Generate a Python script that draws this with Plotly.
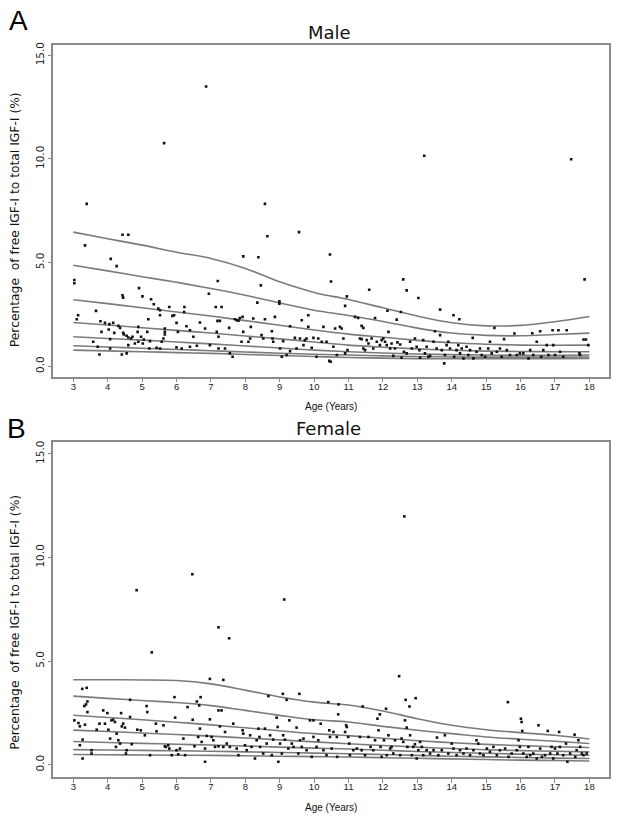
import plotly.graph_objects as go

# ---------------- data ----------------
curve_age = [3, 4, 5, 6, 7, 8, 9, 10, 11, 12, 13, 14, 15, 16, 17, 18]

male_p97 = [6.47, 6.15, 5.84, 5.50, 5.20, 4.72, 4.07, 3.56, 3.22, 2.82, 2.42, 2.10, 1.95, 1.97, 2.15, 2.40]
male_p90 = [4.87, 4.60, 4.32, 4.05, 3.75, 3.42, 3.05, 2.70, 2.45, 2.16, 1.84, 1.60, 1.49, 1.47, 1.53, 1.60]
male_p75 = [3.21, 3.02, 2.82, 2.62, 2.42, 2.20, 1.98, 1.75, 1.55, 1.40, 1.25, 1.13, 1.06, 1.02, 1.01, 1.02]
male_p50 = [2.11, 1.99, 1.86, 1.73, 1.60, 1.46, 1.32, 1.17, 1.02, 0.92, 0.84, 0.77, 0.73, 0.71, 0.70, 0.70]
male_p25 = [1.42, 1.34, 1.26, 1.17, 1.08, 0.98, 0.88, 0.78, 0.70, 0.64, 0.59, 0.56, 0.54, 0.53, 0.53, 0.54]
male_p10 = [0.99, 0.93, 0.87, 0.81, 0.75, 0.69, 0.63, 0.58, 0.54, 0.50, 0.47, 0.45, 0.44, 0.44, 0.44, 0.45]
male_p03 = [0.78, 0.74, 0.70, 0.66, 0.62, 0.57, 0.52, 0.47, 0.42, 0.39, 0.37, 0.36, 0.36, 0.36, 0.37, 0.38]

female_p97 = [4.10, 4.10, 4.09, 4.06, 3.90, 3.60, 3.27, 3.02, 2.88, 2.59, 2.22, 1.90, 1.69, 1.55, 1.42, 1.24]
female_p90 = [3.31, 3.20, 3.10, 3.00, 2.85, 2.62, 2.38, 2.17, 2.06, 1.85, 1.66, 1.50, 1.34, 1.23, 1.13, 1.02]
female_p75 = [2.39, 2.28, 2.17, 2.05, 1.92, 1.78, 1.64, 1.50, 1.40, 1.28, 1.16, 1.06, 0.98, 0.92, 0.87, 0.83]
female_p50 = [1.67, 1.60, 1.53, 1.46, 1.38, 1.29, 1.20, 1.10, 1.01, 0.93, 0.85, 0.78, 0.72, 0.68, 0.65, 0.62]
female_p25 = [1.12, 1.07, 1.03, 0.99, 0.95, 0.90, 0.85, 0.80, 0.76, 0.70, 0.64, 0.59, 0.55, 0.51, 0.48, 0.46]
female_p10 = [0.73, 0.71, 0.69, 0.67, 0.65, 0.62, 0.59, 0.56, 0.53, 0.49, 0.45, 0.41, 0.38, 0.35, 0.32, 0.30]
female_p03 = [0.49, 0.48, 0.47, 0.46, 0.45, 0.43, 0.41, 0.39, 0.37, 0.34, 0.31, 0.28, 0.25, 0.22, 0.20, 0.18]

male_age = [
    3.39, 3.34, 3.03, 3.03, 3.14, 3.10, 3.66, 3.79, 3.92, 4.05, 4.16, 4.31, 3.82, 4.03, 4.07, 4.19,
    4.36, 4.45, 4.47, 4.55, 4.60, 4.68, 4.72, 4.87, 4.89, 4.97, 5.05, 5.15, 4.79, 4.60, 4.41, 4.55,
    3.76, 3.58, 3.71, 4.07, 4.43, 4.45, 4.91, 5.01, 5.26, 5.34, 5.47, 5.52, 5.66, 5.66, 5.62, 5.57,
    5.52, 5.42, 5.23, 5.21, 5.02, 4.89, 5.18, 5.52, 5.79, 5.93, 5.88, 6.23, 6.22, 6.00, 6.04, 6.29,
    6.39, 6.49, 6.00, 6.15, 6.39, 6.59, 6.68, 6.83, 6.94, 6.97, 7.14, 7.19, 7.26, 7.31, 7.17, 7.22,
    7.22, 7.41, 7.53, 7.55, 7.63, 7.70, 7.75, 7.80, 7.84, 7.92, 7.94, 7.89, 7.94, 8.09, 8.14, 8.16,
    8.23, 8.35, 8.38, 8.45, 8.47, 8.52, 8.64, 8.57, 8.57, 8.77, 8.79, 8.81, 8.86, 8.99, 8.99, 9.01,
    9.06, 9.10, 9.20, 9.30, 9.30, 9.44, 9.49, 9.59, 9.64, 9.69, 9.73, 9.78, 9.83, 9.83, 9.93, 9.98,
    10.07, 10.12, 10.22, 10.27, 10.36, 10.44, 10.48, 10.46, 10.49, 10.56, 10.61, 10.66, 10.75, 10.80, 10.85, 10.90,
    10.90, 10.95, 10.97, 9.56, 4.43, 4.60, 4.09, 4.26, 7.20, 5.66,
    5.64, 6.86, 13.20, 17.47,
    11.19, 11.28, 11.38, 11.43, 11.33, 11.38, 11.48, 11.43, 11.53, 11.58, 11.60, 11.67, 11.72, 11.77, 11.82, 11.91,
    11.96, 12.01, 12.06, 12.11, 12.13, 12.16, 12.21, 12.25, 12.30, 12.35, 12.40, 12.42, 12.50, 12.52, 12.54, 12.59,
    12.61, 12.69, 12.69, 12.79, 12.84, 12.93, 12.98, 13.03, 13.06, 13.08, 13.17, 13.22, 13.27, 13.32, 13.37, 13.47,
    13.51, 13.56, 13.66, 13.66, 13.71, 13.78, 13.80, 13.85, 13.90, 13.95, 14.05, 14.07, 14.14, 14.19, 14.22, 14.24,
    14.29, 14.34, 14.43, 14.48, 14.53, 14.61, 14.63, 14.72, 14.82, 14.87, 14.97, 15.06, 15.11, 15.16, 15.24, 15.31,
    15.40, 15.45, 15.52, 15.60, 15.69, 15.82, 15.89, 15.98, 16.08, 16.23, 16.28, 16.34, 16.37, 16.47, 16.57, 16.60,
    16.66, 16.76, 16.81, 16.93, 16.95, 17.00, 17.10, 17.15, 17.24, 17.34, 17.71, 17.73, 17.83, 17.90, 17.86, 17.97,
]
male_val = [
    7.83, 5.83, 4.16, 4.00, 2.46, 2.27, 2.67, 2.17, 2.09, 2.03, 2.09, 1.95, 1.66, 1.77, 1.31, 1.61,
    1.85, 1.61, 1.53, 1.47, 1.39, 1.34, 1.42, 1.66, 1.90, 1.42, 1.29, 1.66, 1.10, 1.02, 0.57, 0.62,
    0.57, 1.18, 0.94, 0.86, 3.42, 3.31, 3.77, 3.37, 3.23, 2.99, 2.78, 2.46, 1.66, 1.53, 1.34, 1.18,
    0.86, 0.89, 1.21, 0.86, 1.10, 1.18, 2.27, 2.70, 2.86, 2.46, 2.43, 2.86, 2.62, 2.09, 1.66, 1.93,
    1.74, 1.42, 0.91, 0.86, 0.94, 0.99, 2.11, 1.82, 3.50, 1.02, 2.86, 2.19, 2.19, 2.86, 1.66, 1.42,
    0.86, 0.86, 1.85, 0.62, 0.46, 2.27, 2.22, 2.20, 2.33, 2.38, 5.30, 1.18, 1.66, 1.18, 1.34, 1.90,
    2.30, 3.07, 5.26, 3.90, 1.50, 1.34, 6.27, 7.83, 2.27, 1.69, 1.34, 1.18, 2.38, 3.13, 3.02, 0.86,
    0.46, 1.21, 0.54, 1.93, 0.73, 1.37, 0.86, 1.34, 2.22, 1.02, 1.26, 1.34, 2.46, 1.90, 0.89, 1.37,
    0.46, 1.34, 1.18, 1.90, 1.18, 0.26, 0.22, 5.39, 4.09, 0.94, 1.82, 0.54, 1.90, 1.82, 1.34, 2.91,
    0.62, 3.37, 0.78, 6.47, 6.34, 6.34, 5.18, 4.83, 4.11, 1.82,
    10.76, 13.49, 10.15, 9.98,
    2.38, 2.33, 1.95, 1.85, 1.34, 1.31, 0.78, 0.86, 1.26, 1.10, 3.69, 1.34, 0.86, 2.33, 1.18, 1.02,
    1.26, 1.34, 1.18, 1.02, 2.68, 1.66, 0.86, 1.10, 0.50, 0.86, 2.25, 1.15, 1.05, 2.62, 0.41, 4.19,
    0.70, 3.66, 0.62, 1.18, 0.86, 1.34, 0.94, 3.29, 0.78, 0.41, 1.26, 0.62, 0.94, 0.46, 0.50, 1.18,
    1.69, 0.86, 2.73, 1.50, 0.78, 0.14, 0.54, 1.02, 1.18, 0.86, 2.46, 0.46, 0.78, 1.02, 2.27, 0.62,
    0.86, 0.38, 0.94, 0.54, 0.78, 1.37, 0.38, 0.70, 0.86, 0.54, 0.46, 0.86, 1.18, 0.62, 1.85, 0.70,
    0.86, 0.46, 1.31, 0.78, 0.54, 1.58, 0.54, 0.62, 0.62, 0.38, 0.78, 1.59, 0.54, 1.18, 1.69, 0.46,
    0.78, 1.02, 0.54, 1.74, 1.02, 0.54, 1.74, 0.70, 0.46, 1.74, 0.62, 0.54, 1.29, 1.29, 4.19, 1.02,
]

female_age = [
    3.26, 3.39, 3.32, 3.37, 3.41, 3.03, 3.15, 3.19, 3.34, 3.41, 3.27, 3.19, 3.27, 3.53, 3.53, 3.68,
    3.76, 3.87, 3.92, 3.99, 4.02, 4.07, 4.11, 4.16, 4.21, 4.26, 4.24, 4.31, 4.36, 4.39, 4.41, 4.45,
    4.50, 4.53, 4.55, 4.65, 4.65, 4.70, 4.86, 4.96, 5.08, 5.13, 5.15, 5.23, 5.40, 5.42, 5.62, 5.66,
    5.69, 5.76, 5.79, 5.86, 5.94, 5.96, 6.00, 6.05, 6.10, 6.20, 6.25, 6.32, 6.47, 6.52, 6.59, 6.63,
    6.66, 6.68, 6.70, 6.73, 6.83, 6.83, 6.88, 6.97, 6.97, 7.02, 7.07, 7.12, 7.22, 7.22, 7.26, 7.31,
    7.36, 7.36, 7.41, 7.46, 7.55, 7.65, 7.75, 7.80, 7.92, 7.94, 7.99, 8.04, 8.14, 8.18, 8.28, 8.33,
    8.38, 8.41, 8.43, 8.52, 8.57, 8.62, 8.67, 8.72, 8.77, 8.81, 8.91, 8.94, 8.96, 9.01, 9.06, 9.09,
    9.10, 9.15, 9.20, 9.25, 9.28, 9.35, 9.40, 9.49, 9.54, 9.57, 9.59, 9.64, 9.69, 9.78, 9.88, 9.93,
    9.98, 9.98, 10.07, 10.12, 10.19, 10.27, 10.36, 10.41, 10.44, 10.46, 10.51, 10.56, 10.66, 10.67, 10.70, 10.71,
    4.84, 6.46, 9.13, 7.22, 7.53, 5.28, 12.62,
    10.93, 10.95, 10.90, 10.99, 11.02, 11.04, 11.14, 11.24, 11.33, 11.41, 11.38, 11.48, 11.58, 11.64, 11.72, 11.77,
    11.84, 11.87, 11.91, 11.93, 11.96, 12.09, 12.03, 12.11, 12.16, 12.21, 12.25, 12.30, 12.35, 12.47, 12.50, 12.54,
    12.59, 12.64, 12.66, 12.69, 12.71, 12.77, 12.79, 12.84, 12.88, 12.93, 12.95, 12.98, 13.03, 13.08, 13.13, 13.17,
    13.27, 13.37, 13.47, 13.57, 13.61, 13.71, 13.80, 13.90, 14.00, 14.05, 14.14, 14.24, 14.34, 14.43, 14.53, 14.63,
    14.72, 14.77, 14.82, 14.92, 15.02, 15.11, 15.21, 15.31, 15.40, 15.55, 15.63, 15.65, 15.74, 15.89, 15.94, 15.98,
    16.01, 16.03, 16.05, 16.08, 16.18, 16.23, 16.28, 16.37, 16.47, 16.52, 16.57, 16.62, 16.71, 16.79, 16.86, 16.90,
    16.95, 17.00, 17.07, 17.12, 17.14, 17.24, 17.32, 17.36, 17.44, 17.57, 17.59, 17.63, 17.68, 17.73, 17.78, 17.83,
    17.92,
]
female_val = [
    3.66, 3.71, 2.83, 2.91, 3.05, 2.14, 2.01, 1.85, 1.93, 2.54, 1.21, 0.94, 0.30, 0.70, 0.54, 1.69,
    1.98, 2.62, 1.98, 2.49, 1.69, 1.26, 2.14, 2.17, 2.06, 1.50, 0.86, 1.18, 1.02, 2.49, 1.85, 1.98,
    1.79, 0.54, 0.70, 3.13, 2.30, 0.99, 1.69, 1.66, 1.42, 2.83, 2.54, 0.46, 1.98, 1.61, 1.90, 0.89,
    0.86, 0.94, 0.78, 0.46, 3.26, 2.27, 0.70, 0.50, 0.78, 1.26, 0.46, 2.78, 2.17, 0.89, 3.05, 1.34,
    2.86, 1.74, 3.26, 1.10, 0.14, 0.78, 1.39, 2.19, 4.14, 1.34, 1.18, 0.86, 2.62, 0.89, 1.85, 2.62,
    4.09, 0.86, 1.58, 1.02, 0.86, 1.98, 0.78, 0.46, 1.66, 1.50, 0.94, 0.70, 1.42, 0.86, 0.30, 1.18,
    1.74, 1.34, 0.86, 0.54, 1.74, 1.02, 3.31, 1.42, 0.46, 1.21, 2.27, 1.82, 0.14, 1.02, 0.54, 3.42,
    1.42, 1.21, 3.13, 0.78, 2.14, 1.02, 0.86, 1.79, 0.54, 3.42, 1.18, 0.86, 1.26, 0.70, 2.14, 0.38,
    1.34, 2.14, 0.86, 1.18, 1.98, 0.70, 0.46, 3.02, 1.66, 1.34, 0.78, 1.58, 1.34, 0.38, 2.43, 2.91,
    8.42, 9.19, 7.97, 6.63, 6.10, 5.42, 11.98,
    1.90, 1.82, 1.58, 1.34, 1.02, 0.46, 0.70, 0.78, 1.34, 2.81, 0.70, 0.46, 1.34, 0.86, 0.70, 1.18,
    2.22, 1.66, 2.43, 0.86, 0.38, 2.70, 1.18, 0.46, 1.42, 0.78, 0.86, 0.54, 1.18, 4.27, 0.46, 1.26,
    1.10, 2.14, 3.13, 1.79, 0.86, 2.81, 1.42, 0.46, 0.86, 0.99, 3.21, 0.30, 0.70, 1.10, 0.86, 0.46,
    0.70, 0.54, 0.70, 1.31, 0.46, 0.70, 1.42, 0.54, 1.02, 0.78, 0.46, 0.70, 0.54, 0.78, 0.46, 0.70,
    1.18, 1.02, 0.54, 0.46, 0.78, 0.62, 0.86, 0.46, 0.70, 0.78, 3.02, 0.38, 0.54, 0.70, 1.18, 0.86,
    2.22, 2.06, 1.63, 0.54, 0.38, 0.86, 0.46, 0.54, 0.30, 1.90, 0.78, 0.38, 0.46, 1.63, 0.54, 0.86,
    0.30, 0.78, 0.54, 1.58, 0.86, 0.46, 1.02, 0.14, 0.54, 1.45, 0.38, 0.70, 1.18, 0.86, 0.54, 0.46,
    0.54,
]

x_ticks = [3, 4, 5, 6, 7, 8, 9, 10, 11, 12, 13, 14, 15, 16, 17, 18]
y_ticks = [0, 5, 10, 15]
y_tick_text = ["0.0", "5.0", "10.0", "15.0"]

male_curves = [male_p97, male_p90, male_p75, male_p50, male_p25, male_p10, male_p03]
female_curves = [female_p97, female_p90, female_p75, female_p50, female_p25, female_p10, female_p03]

# ---------------- figure ----------------
W, H = 617, 819
CURVE_COLOR = "#7b7b7b"
FRAME_COLOR = "#8a8a8a"

fig = go.Figure()

for xa, ya, curves, ages, vals in [
    ("x", "y", male_curves, male_age, male_val),
    ("x2", "y2", female_curves, female_age, female_val),
]:
    for c in curves:
        fig.add_trace(go.Scatter(
            x=curve_age, y=c, mode="lines", xaxis=xa, yaxis=ya,
            line=dict(color=CURVE_COLOR, width=1.6, shape="spline", smoothing=1.0),
            hoverinfo="skip", showlegend=False,
        ))
    fig.add_trace(go.Scatter(
        x=ages, y=vals, mode="markers", xaxis=xa, yaxis=ya,
        marker=dict(color="#111111", size=2.6, symbol="square", line=dict(width=0)),
        showlegend=False,
    ))

x_dom = [53 / W, 609 / W]
male_dom = [1 - 375 / H, 1 - 42 / H]
female_dom = [1 - 777 / H, 1 - 441 / H]

xcommon = dict(
    range=[2.41, 18.57], tickvals=x_ticks, ticktext=[str(t) for t in x_ticks],
    showgrid=False, zeroline=False, showline=True, mirror=True,
    linecolor=FRAME_COLOR, linewidth=1.5,
    ticks="outside", ticklen=4, tickcolor=FRAME_COLOR, tickwidth=1,
    ticklabelstandoff=-4,
    tickfont=dict(family="Liberation Sans, Arial, sans-serif", size=9.5, color="#222"),
    domain=x_dom,
)
ycommon = dict(
    tickvals=y_ticks, ticktext=y_tick_text, tickangle=-90,
    showgrid=False, zeroline=False, showline=True, mirror=True,
    linecolor=FRAME_COLOR, linewidth=1.5,
    ticks="outside", ticklen=3, tickcolor=FRAME_COLOR, tickwidth=1,
    tickfont=dict(family="DejaVu Sans, Verdana, sans-serif", size=10.5, color="#222"),
)

fig.update_layout(
    width=W, height=H,
    margin=dict(l=0, r=0, t=0, b=0),
    paper_bgcolor="white", plot_bgcolor="white",
    xaxis=dict(**xcommon, anchor="y"),
    yaxis=dict(**ycommon, range=[-0.5, 15.5], domain=male_dom, anchor="x"),
    xaxis2=dict(**xcommon, anchor="y2"),
    yaxis2=dict(**ycommon, range=[-0.6, 15.55], domain=female_dom, anchor="x2"),
)

def ann(text, px, py, size, family, angle=0, color="#111"):
    fig.add_annotation(
        text=text, x=px / W, y=1 - py / H, xref="paper", yref="paper",
        xanchor="center", yanchor="middle", showarrow=False, textangle=angle,
        font=dict(size=size, family=family, color=color),
    )

ylab = "Percentage\u00a0 of free IGF-I to total IGF-I (%)"
ann("A", 18, 18, 28, "Liberation Sans, Arial, sans-serif", color="#000")
ann("B", 16, 427, 28, "Liberation Sans, Arial, sans-serif", color="#000")
ann("Male", 330, 30, 18, "DejaVu Sans, Verdana, sans-serif")
ann("Female", 328, 427, 18, "DejaVu Sans, Verdana, sans-serif")
ann("Age (Years)", 331, 405, 10, "Liberation Sans, Arial, sans-serif")
ann("Age (Years)", 331, 807, 10, "Liberation Sans, Arial, sans-serif")
ann(ylab, 15, 218, 12.3, "DejaVu Sans, Verdana, sans-serif", angle=-90)
ann(ylab, 15, 622, 12.3, "DejaVu Sans, Verdana, sans-serif", angle=-90)

fig.write_html(
    "out.html",
    config={"displayModeBar": False},
    post_script="document.body.style.margin='0';document.body.style.overflow='hidden';",
)
